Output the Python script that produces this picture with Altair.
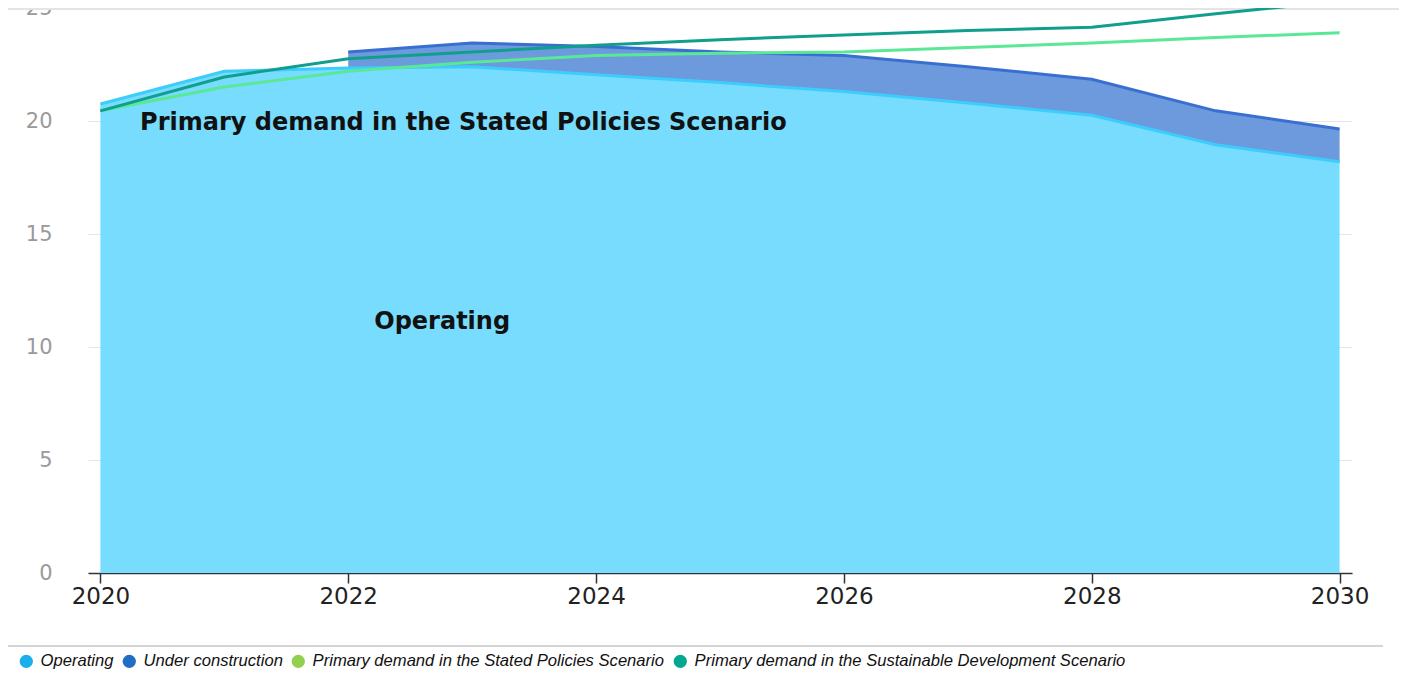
import altair as alt
import pandas as pd

# ---- data ----
years = list(range(2020, 2031))
operating = [20.75, 22.2, 22.35, 22.4, 22.05, 21.7, 21.3, 20.8, 20.25, 18.95, 18.2]
under_construction = [None, None, 0.7, 1.05, 1.25, 1.35, 1.6, 1.6, 1.6, 1.5, 1.45]
stated_policies = [20.45, 21.5, 22.2, 22.6, 22.9, 23.0, 23.05, 23.25, 23.45, 23.7, 23.9]
sustainable_dev = [20.45, 21.95, 22.75, 23.05, 23.35, 23.6, 23.8, 24.0, 24.15, 24.75, 25.3]

legend_names = [
    "Operating",
    "Under construction",
    "Primary demand in the Stated Policies Scenario",
    "Primary demand in the Sustainable Development Scenario",
]
legend_colors = ["#1aaeea", "#1f6ec4", "#92d050", "#00a88f"]

ann_text = ["Primary demand in the Stated Policies Scenario", "Operating"]
ann_x = [2020.32, 2022.21]
ann_y = [19.9, 11.1]

x_ticks = [2020, 2022, 2024, 2026, 2028, 2030]
y_ticks = [0, 5, 10, 15, 20, 25]

# ---- tables ----
df = pd.DataFrame({
    "year": years,
    "operating": operating,
    "uc": under_construction,
    "sps": stated_policies,
    "sds": sustainable_dev,
})
df["total"] = df["operating"] + df["uc"]
df_uc = df.dropna(subset=["uc"])
ann = pd.DataFrame({"text": ann_text, "x": ann_x, "y": ann_y})
leg = pd.DataFrame({"name": legend_names})
one = pd.DataFrame({"k": [0]})

W, H = 1264, 565
FONT = "DejaVu Sans"

xscale = alt.Scale(domain=[2019.9, 2030.1], nice=False, zero=False)
yscale = alt.Scale(domain=[0, 25], nice=False)

x_axis = alt.Axis(values=x_ticks, format="d", title=None, grid=False,
                  domainColor="#333333", domainWidth=1.5, tickColor="#333333",
                  tickWidth=1.5, tickSize=10, labelFont=FONT, labelFontSize=23,
                  labelColor="#222222", labelPadding=2)
y_axis = alt.Axis(values=y_ticks, title=None, grid=True, gridColor="#e6e6e6",
                  gridWidth=1, domain=False, ticks=False, labelFont=FONT,
                  labelFontSize=21, labelColor="#9a9a9a", labelPadding=36)

X = alt.X("year:Q", scale=xscale, title=None)

# grey surround of the screenshot (right and top edges)
band_right = alt.Chart(one).mark_rect(color="#e4e4e4").encode(
    x=alt.value(1315), x2=alt.value(1330), y=alt.value(0), y2=alt.value(665))
band_top = alt.Chart(one).mark_rect(color="#e4e4e4").encode(
    x=alt.value(-80), x2=alt.value(1330), y=alt.value(0), y2=alt.value(2))

sep = alt.Chart(one).mark_rule(color="#d4d4d4", strokeWidth=2).encode(
    x=alt.value(-80), x2=alt.value(1295), y=alt.value(638))

op_area = alt.Chart(df).mark_area(color="#77dcfd", opacity=1).encode(
    x=alt.X("year:Q", scale=xscale, axis=x_axis),
    y=alt.Y("operating:Q", scale=yscale, axis=y_axis),
)

uc_area = alt.Chart(df_uc).mark_area(color="#6c9adc", opacity=1).encode(
    x=X,
    y=alt.Y("operating:Q", scale=yscale, title=None),
    y2="total:Q",
)

op_line = alt.Chart(df).mark_line(color="#3ccdfc", strokeWidth=3).encode(
    x=X, y=alt.Y("operating:Q", scale=yscale, title=None),
)

uc_line = alt.Chart(df_uc).mark_line(color="#3a6fd2", strokeWidth=3).encode(
    x=X, y=alt.Y("total:Q", scale=yscale, title=None),
)

sps_line = alt.Chart(df).mark_line(color="#5ae896", strokeWidth=3, clip=True).encode(
    x=X, y=alt.Y("sps:Q", scale=yscale, title=None),
)

sds_line = alt.Chart(df).mark_line(color="#0f9f8c", strokeWidth=3, clip=True).encode(
    x=X, y=alt.Y("sds:Q", scale=yscale, title=None),
)

labels = alt.Chart(ann).mark_text(align="left", baseline="middle", font=FONT,
                                  fontWeight="bold", fontSize=24, color="#111111").encode(
    x=alt.X("x:Q", scale=xscale, title=None),
    y=alt.Y("y:Q", scale=yscale, title=None),
    text="text:N",
)

legend_layer = alt.Chart(leg).mark_circle(opacity=0).encode(
    x=alt.value(0), y=alt.value(0),
    color=alt.Color("name:N", sort=legend_names,
                    scale=alt.Scale(domain=legend_names, range=legend_colors),
                    legend=alt.Legend(title=None, orient="none", legendX=-70, legendY=645,
                                      direction="horizontal", symbolType="circle",
                                      symbolSize=175, symbolOpacity=1, symbolStrokeWidth=0,
                                      labelFont="Liberation Sans",
                                      labelFontStyle="italic", labelFontSize=16.6,
                                      labelColor="#111111", labelLimit=800,
                                      columnPadding=7, labelOffset=6, padding=0)),
)

chart = alt.layer(band_right, band_top, sep, op_area, uc_area, op_line, uc_line,
                  sps_line, sds_line, labels, legend_layer).properties(
    width=W, height=H,
    autosize=alt.AutoSizeParams(type="none"),
    padding={"left": 80, "top": 0, "right": 47, "bottom": 100},
    background="white",
).configure_view(strokeWidth=0)

chart.save("out.html", embed_options={"renderer": "svg", "actions": False})
